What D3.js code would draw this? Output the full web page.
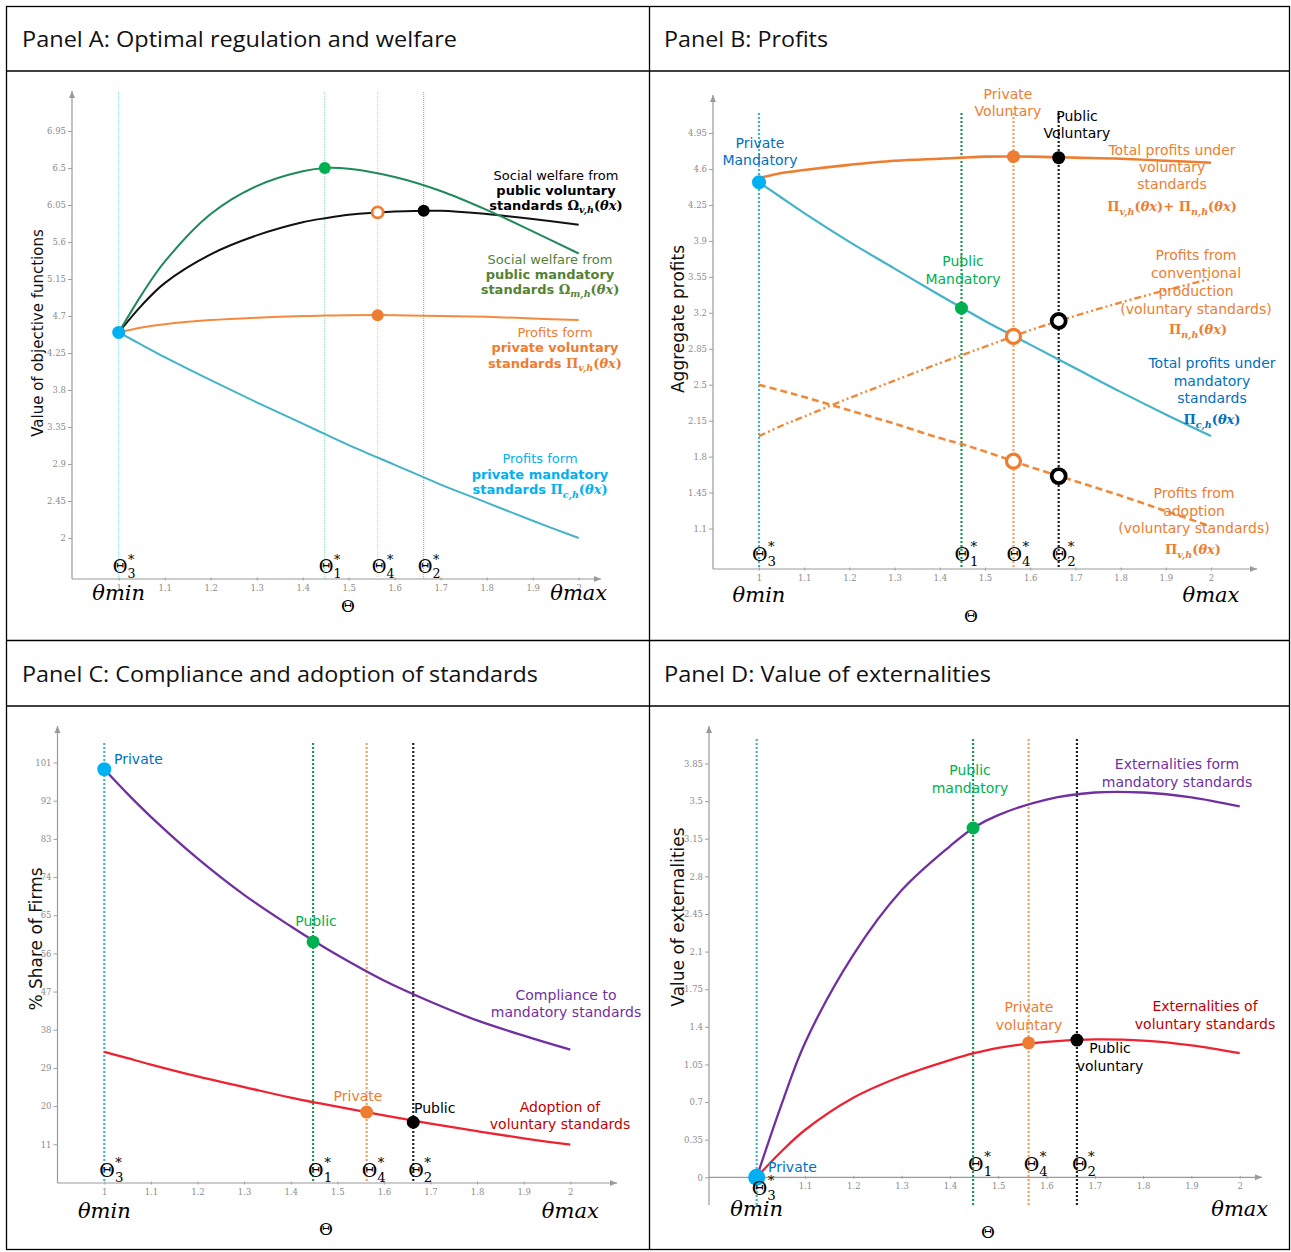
<!DOCTYPE html>
<meta charset="utf-8">
<style>
body { margin: 0; background: #fff; }
svg text { font-family: "DejaVu Sans", Verdana, sans-serif; }
.tick text { font-family: "DejaVu Serif", serif; font-size: 8.5px; fill: #8c8c8c; }
.tick line { stroke: #a0a0a0; }
.math { font-family: "DejaVu Serif", serif; font-weight: bold; }
.serif { font-family: "DejaVu Serif", serif; }
</style>
<body>
<script src="https://cdn.jsdelivr.net/npm/d3@7"></script>
<script>

// common theta grid for every curve
var theta = [1, 1.05, 1.1, 1.2, 1.3, 1.4, 1.45, 1.5, 1.6, 1.7, 1.8, 1.9, 2];
var xTicks = [1, 1.1, 1.2, 1.3, 1.4, 1.5, 1.6, 1.7, 1.8, 1.9, 2];

// thresholds: Θ3*, Θ1*, Θ4*, Θ2*
var thetaStar = [1, 1.448, 1.563, 1.663];
var starNames = ["3", "1", "4", "2"];

// Panel A: objective functions
var yTicksA = [2, 2.45, 2.9, 3.35, 3.8, 4.25, 4.7, 5.15, 5.6, 6.05, 6.5, 6.95];
var welfareMandatory = [4.50, 4.96, 5.36, 5.94, 6.28, 6.46, 6.50, 6.49, 6.39, 6.22, 5.99, 5.73, 5.46];
var welfareVoluntary = [4.50, 4.83, 5.10, 5.45, 5.68, 5.84, 5.89, 5.93, 5.97, 5.98, 5.94, 5.88, 5.81];
var profitsVoluntaryA = [4.50, 4.56, 4.60, 4.65, 4.68, 4.70, 4.705, 4.71, 4.71, 4.70, 4.69, 4.67, 4.65];
var profitsMandatoryA = [4.50, 4.35, 4.20, 3.92, 3.65, 3.39, 3.26, 3.13, 2.89, 2.65, 2.43, 2.21, 2.00];

// Panel B: profits
var yTicksB = [1.1, 1.45, 1.8, 2.15, 2.5, 2.85, 3.2, 3.55, 3.9, 4.25, 4.6, 4.95];
var totalVoluntary = [4.51, 4.56, 4.59, 4.64, 4.68, 4.70, 4.71, 4.72, 4.72, 4.71, 4.70, 4.68, 4.66];
var totalMandatory = [4.47, 4.32, 4.17, 3.89, 3.63, 3.37, 3.245, 3.12, 2.89, 2.66, 2.43, 2.21, 2.00];
var conventional = [2.00, 2.10, 2.19, 2.37, 2.54, 2.71, 2.79, 2.87, 3.03, 3.17, 3.30, 3.42, 3.53];
var adoptionProfits = [2.50, 2.44, 2.38, 2.25, 2.12, 1.98, 1.92, 1.85, 1.70, 1.56, 1.42, 1.27, 1.12];

// Panel C: share of firms (%)
var yTicksC = [11, 20, 29, 38, 47, 56, 65, 74, 83, 92, 101];
var compliance = [99.4, 93.6, 88.2, 78.4, 69.8, 62.4, 58.9, 55.6, 49.6, 44.6, 40.2, 36.6, 33.3];
var adoptionShare = [32.8, 31.3, 29.8, 27.0, 24.5, 22.0, 20.9, 19.9, 17.8, 15.9, 14.1, 12.4, 10.9];

// Panel D: externalities
var yTicksD = [0, 0.35, 0.7, 1.05, 1.4, 1.75, 2.1, 2.45, 2.8, 3.15, 3.5, 3.85];
var extMandatory = [0, 0.66, 1.25, 2.07, 2.67, 3.08, 3.255, 3.37, 3.515, 3.58, 3.58, 3.535, 3.45];
var extVoluntary = [0, 0.235, 0.44, 0.74, 0.94, 1.09, 1.155, 1.205, 1.26, 1.283, 1.272, 1.228, 1.155];

var C = {
  cyan: "#42b3c8", blue: "#00b0f0", dblue: "#0070c0", green: "#00b050",
  dgreen: "#1f8a57", olive: "#548235", orange: "#ed7d31", black: "#000",
  purple: "#7030a0", red: "#ee2232", dred: "#c00000"
};

var svg = d3.select("body").append("svg").attr("width", 1291).attr("height", 1252);

// table frame
svg.append("rect").attr("x", 6.5).attr("y", 6.5).attr("width", 1283).attr("height", 1243)
    .attr("fill", "none").attr("stroke", "#000").attr("stroke-width", 1.3);
[[6, 71, 1290, 71], [6, 640.5, 1290, 640.5], [6, 706, 1290, 706], [649.5, 6, 649.5, 1250]].forEach(function(l) {
  svg.append("line").attr("x1", l[0]).attr("y1", l[1]).attr("x2", l[2]).attr("y2", l[3])
      .attr("stroke", "#000").attr("stroke-width", 1.3);
});

[["Panel A: Optimal regulation and welfare", 22, 47, 435],
 ["Panel B: Profits", 664, 47, 164],
 ["Panel C: Compliance and adoption of standards", 22, 682, 516],
 ["Panel D: Value of externalities", 664, 682, 327]].forEach(function(h) {
  svg.append("text").attr("x", h[1]).attr("y", h[2]).text(h[0])
      .style("font-family", "'Open Sans', sans-serif").attr("font-size", 21).attr("fill", "#111")
      .attr("textLength", h[3]).attr("lengthAdjust", "spacingAndGlyphs");
});

function makePanel(c) {
  var g = svg.append("g");
  var x = d3.scaleLinear().domain([1, 2]).range(c.xr);
  var y = d3.scaleLinear().domain(c.yd).range(c.yr);
  var ax = "#9a9a9a";
  g.append("line").attr("x1", c.ax).attr("x2", c.ax).attr("y1", c.top).attr("y2", c.yEnd || c.ay)
      .attr("stroke", ax).attr("stroke-width", 1.2);
  g.append("line").attr("x1", c.ax).attr("x2", c.right).attr("y1", c.ay).attr("y2", c.ay)
      .attr("stroke", ax).attr("stroke-width", 1.2);
  g.append("path").attr("d", "M" + (c.ax - 3) + "," + (c.top + 7) + "L" + c.ax + "," + c.top + "L" + (c.ax + 3) + "," + (c.top + 7) + "Z").attr("fill", ax);
  g.append("path").attr("d", "M" + (c.right - 7) + "," + (c.ay - 3) + "L" + c.right + "," + c.ay + "L" + (c.right - 7) + "," + (c.ay + 3) + "Z").attr("fill", ax);
  g.append("g").attr("transform", "translate(" + c.ax + ",0)")
      .call(d3.axisLeft(y).tickValues(c.yTicks).tickSize(4).tickPadding(2).tickFormat(String))
      .call(function(s) { s.select(".domain").remove(); });
  g.append("g").attr("transform", "translate(0," + (c.ay - 1.5) + ")")
      .call(d3.axisBottom(x).tickValues(xTicks).tickSize(3).tickPadding(4).tickFormat(String))
      .call(function(s) { s.select(".domain").remove(); });
  return { g: g, x: x, y: y, c: c };
}

function vlines(p, colors, width, dash) {
  thetaStar.forEach(function(t, i) {
    p.g.append("line").attr("x1", p.x(t)).attr("x2", p.x(t)).attr("y1", p.c.vTop).attr("y2", p.c.vBottom)
        .attr("stroke", colors[i]).attr("stroke-width", width).attr("stroke-dasharray", dash);
  });
}

function curve(p, vals, color, width, dash) {
  p.g.append("path").datum(d3.zip(theta, vals))
      .attr("fill", "none").attr("stroke", color).attr("stroke-width", width)
      .attr("stroke-dasharray", dash || null)
      .attr("d", d3.line().x(function(d) { return p.x(d[0]); }).y(function(d) { return p.y(d[1]); })
          .curve(d3.curveCatmullRom.alpha(0.5)));
}

function dot(p, t, v, color, r) {
  p.g.append("circle").attr("cx", p.x(t)).attr("cy", p.y(v)).attr("r", r).attr("fill", color);
}

function ring(p, t, v, color, r, w) {
  p.g.append("circle").attr("cx", p.x(t)).attr("cy", p.y(v)).attr("r", r)
      .attr("fill", "#fff").attr("stroke", color).attr("stroke-width", w);
}

function mathTerm(t, sym, sub, size) {
  t.append("tspan").attr("class", "math").text(sym);
  t.append("tspan").attr("class", "math").attr("font-style", "italic").attr("font-size", size * 0.68)
      .attr("dy", size * 0.28).text(sub);
  t.append("tspan").attr("class", "math").attr("dy", -size * 0.28).text("(");
  t.append("tspan").attr("class", "math").attr("font-style", "italic").text("θx");
  t.append("tspan").attr("class", "math").text(")");
}

function block(x, y, dy, lines, color, size, anchor) {
  lines.forEach(function(ln, i) {
    var t = svg.append("text").attr("x", x).attr("y", y + i * dy).attr("fill", color)
        .attr("font-size", size).attr("text-anchor", anchor || "middle");
    if (typeof ln === "string") { t.text(ln); return; }
    if (ln.b) t.append("tspan").attr("font-weight", "bold").text(ln.b);
    (ln.m || []).forEach(function(m, k) {
      if (k > 0) t.append("tspan").attr("class", "math").text("+ ");
      mathTerm(t, m[0], m[1], size + 1);
    });
  });
}

function starLabels(p, y, size, dx, yFirst) {
  thetaStar.forEach(function(t, i) {
    var t0 = svg.append("text").attr("class", "serif").attr("x", p.x(t) + dx)
        .attr("y", i === 0 && yFirst ? yFirst : y).attr("font-size", size).attr("fill", "#000");
    t0.append("tspan").text("Θ");
    t0.append("tspan").attr("font-size", size * 0.7).attr("dy", size * 0.28).text(starNames[i]);
    t0.append("tspan").attr("font-size", size * 0.7).attr("dx", -size * 0.42).attr("dy", -size * 0.8).text("*");
  });
}

function axisTitles(p, yMin, thetaY, thetaX) {
  svg.append("text").attr("class", "serif").attr("font-style", "italic").attr("font-size", 21)
      .attr("text-anchor", "middle").attr("x", p.x(1)).attr("y", yMin).text("θmin");
  svg.append("text").attr("class", "serif").attr("font-style", "italic").attr("font-size", 21)
      .attr("text-anchor", "middle").attr("x", p.x(2)).attr("y", yMin).text("θmax");
  svg.append("text").attr("class", "serif").attr("font-size", 17)
      .attr("text-anchor", "middle").attr("x", thetaX).attr("y", thetaY).text("Θ");
}

function yTitle(x, y, text, size) {
  svg.append("text").attr("transform", "translate(" + x + "," + y + ") rotate(-90)")
      .attr("text-anchor", "middle").attr("font-size", size).attr("fill", "#111").text(text);
}

// ---------- Panel A ----------
var pA = makePanel({ xr: [118.7, 578.7], yd: [2, 6.95], yr: [538, 131], ax: 72, ay: 579, top: 91, right: 601,
  yTicks: yTicksA, vTop: 92, vBottom: 579 });
yTitle(43, 333, "Value of objective functions", 15);
block(556, 179.5, 15, ["Social welfare from", { b: "public voluntary" }, { b: "standards ", m: [["Ω", "v,h"]] }], C.black, 13);
block(550, 263.5, 15, ["Social welfare from", { b: "public mandatory" }, { b: "standards ", m: [["Ω", "m,h"]] }], C.olive, 13);
block(555, 336.5, 15.5, ["Profits form", { b: "private voluntary" }, { b: "standards ", m: [["Π", "v,h"]] }], C.orange, 13);
block(540, 463, 15.5, ["Profits form", { b: "private mandatory" }, { b: "standards ", m: [["Π", "c,h"]] }], C.blue, 13);
starLabels(pA, 573, 18, -6);
axisTitles(pA, 600, 612, 348);
vlines(pA, ["#8fd8e6", "#96d4ae", "#f6c09a", "#9a9a9a"], 1, "1,1");
curve(pA, profitsMandatoryA, C.cyan, 2);
curve(pA, profitsVoluntaryA, "#f58a3c", 2);
curve(pA, welfareVoluntary, "#111", 2);
curve(pA, welfareMandatory, C.dgreen, 2);
dot(pA, 1, 4.5, C.blue, 6.5);
dot(pA, 1.448, 6.5, C.green, 6);
ring(pA, 1.563, 5.96, C.orange, 5.5, 2.8);
dot(pA, 1.663, 5.98, "#000", 6);
dot(pA, 1.563, 4.71, C.orange, 6);

// ---------- Panel B ----------
var pB = makePanel({ xr: [759, 1211], yd: [1.1, 4.95], yr: [528.5, 133], ax: 713, ay: 569, top: 95, right: 1257,
  yTicks: yTicksB, vTop: 113, vBottom: 569 });
yTitle(684, 319, "Aggregate profits", 17);
block(760, 148, 17, ["Private", "Mandatory"], C.dblue, 14);
block(1008, 99, 17, ["Private", "Voluntary"], C.orange, 14);
block(1077, 121, 17, ["Public", "Voluntary"], C.black, 14);
block(963, 266, 18, ["Public", "Mandatory"], C.green, 14);
block(1172, 155, 17, ["Total profits under", "voluntary", "standards"], C.orange, 14);
block(1172, 211, 17, [{ m: [["Π", "v,h"], ["Π", "n,h"]] }], C.orange, 13);
block(1196, 260, 18, ["Profits from", "conventional", "production", "(voluntary standards)"], C.orange, 14);
block(1198, 334, 17, [{ m: [["Π", "n,h"]] }], C.orange, 13);
block(1212, 368, 17.5, ["Total profits under", "mandatory", "standards"], C.dblue, 14);
block(1212, 424, 17, [{ m: [["Π", "c,h"]] }], C.dblue, 13);
block(1194, 498, 17.5, ["Profits from", "adoption", "(voluntary standards)"], C.orange, 14);
block(1193, 554, 17, [{ m: [["Π", "v,h"]] }], C.orange, 13);
starLabels(pB, 561, 19, -7);
axisTitles(pB, 602, 622, 971);
vlines(pB, [C.cyan, "#1a9a50", "#f7a05c", "#222"], 2.2, "2,2");
curve(pB, totalMandatory, C.cyan, 2.2);
curve(pB, totalVoluntary, C.orange, 2.6);
curve(pB, conventional, "#f08a3a", 2.4, "7,3,2,3,2,3");
curve(pB, adoptionProfits, "#f08a3a", 2.6, "7,4");
dot(pB, 1, 4.47, C.blue, 7);
dot(pB, 1.563, 4.72, C.orange, 6.5);
dot(pB, 1.663, 4.71, "#000", 6.5);
dot(pB, 1.448, 3.245, C.green, 6.5);
ring(pB, 1.563, 2.97, C.orange, 7, 3.2);
ring(pB, 1.663, 3.12, "#000", 7, 3.8);
ring(pB, 1.563, 1.755, C.orange, 7, 3.2);
ring(pB, 1.663, 1.61, "#000", 7, 3.8);

// ---------- Panel C ----------
var pC = makePanel({ xr: [104.3, 570.3], yd: [11, 101], yr: [1144.3, 762.5], ax: 57.5, ay: 1183, top: 726, right: 617,
  yTicks: yTicksC, vTop: 743, vBottom: 1183 });
yTitle(42, 939, "% Share of Firms", 17);
block(114, 764, 17, ["Private"], C.dblue, 14, "start");
block(316, 926, 17, ["Public"], C.green, 14);
block(358, 1101, 17, ["Private"], C.orange, 14);
block(414, 1113, 17, ["Public"], C.black, 14, "start");
block(566, 1000, 17, ["Compliance to", "mandatory standards"], C.purple, 14);
block(560, 1112, 17, ["Adoption of", "voluntary standards"], C.dred, 14);
starLabels(pC, 1177, 19, -5);
axisTitles(pC, 1218, 1235, 326);
vlines(pC, [C.cyan, "#1a9a50", "#f7a05c", "#222"], 2.2, "2,2");
curve(pC, compliance, C.purple, 2.3);
curve(pC, adoptionShare, C.red, 2.3);
dot(pC, 1, 99.4, C.blue, 7);
dot(pC, 1.448, 58.7, C.green, 6.5);
dot(pC, 1.563, 18.6, C.orange, 6.5);
dot(pC, 1.663, 16.2, "#000", 6.5);

// ---------- Panel D ----------
var pD = makePanel({ xr: [756.7, 1239.7], yd: [0, 3.85], yr: [1177.3, 763.5], ax: 709, ay: 1177.3, top: 726, right: 1262,
  yEnd: 1205, yTicks: yTicksD, vTop: 739, vBottom: 1205 });
yTitle(684, 917, "Value of externalities", 17);
block(970, 775, 18, ["Public", "mandatory"], C.green, 14);
block(1177, 769, 18, ["Externalities form", "mandatory standards"], C.purple, 14);
block(1029, 1012, 18, ["Private", "voluntary"], C.orange, 14);
block(1205, 1011, 18, ["Externalities of", "voluntary standards"], C.dred, 14);
block(1110, 1053, 18, ["Public", "voluntary"], C.black, 14);
block(768, 1172, 17, ["Private"], C.dblue, 14, "start");
starLabels(pD, 1171, 19, -5, 1195);
axisTitles(pD, 1216, 1238, 988);
vlines(pD, [C.cyan, "#1a9a50", "#f7a05c", "#222"], 2.2, "2,2");
curve(pD, extMandatory, C.purple, 2.3);
curve(pD, extVoluntary, C.red, 2.3);
dot(pD, 1, 0, C.blue, 8.5);
dot(pD, 1.448, 3.25, C.green, 6.5);
dot(pD, 1.563, 1.25, C.orange, 6.5);
dot(pD, 1.663, 1.277, "#000", 6.5);

</script>
